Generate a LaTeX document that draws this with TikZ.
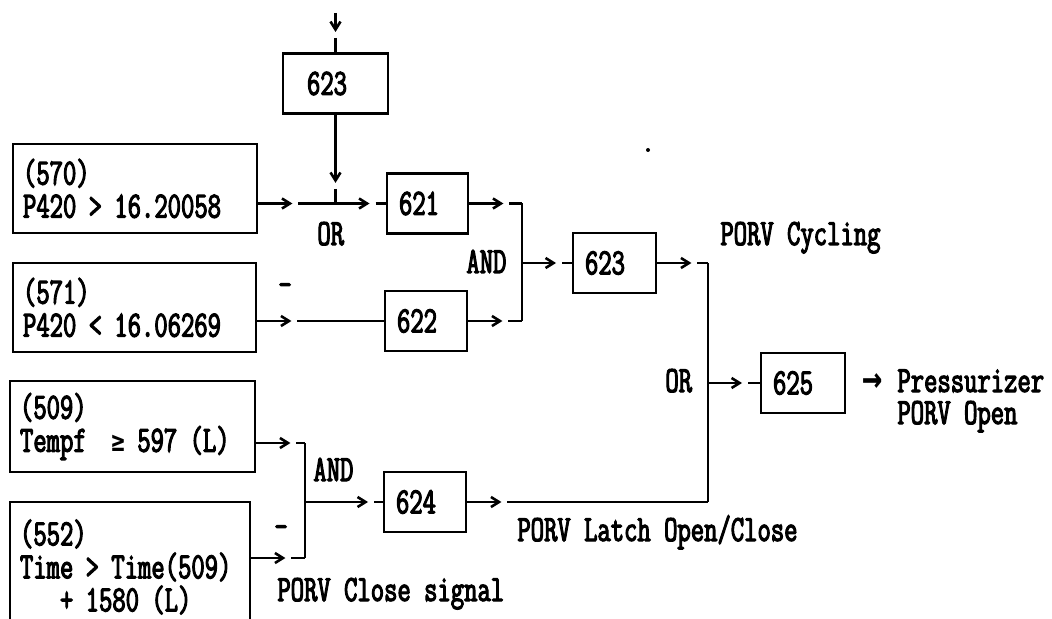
\documentclass[tikz,border=0pt]{standalone}
\usepackage{fontspec}
\setmainfont{Latin Modern Mono}[FakeStretch=0.7,FakeBold=3]
\newfontfamily\symfont{DejaVu Sans Mono Bold}[FakeStretch=0.8]
\usetikzlibrary{arrows.meta,calc}

\tikzset{
  sigline/.style={line width=1.3pt},
  sigarrow/.style={sigline,-{Straight Barb[length=4pt,width=5pt]}},
  condbox/.style={draw,line width=1.4pt,align=left,inner xsep=5pt,minimum height=44.5pt},
  blk/.style={draw,line width=1.4pt,align=left,inner xsep=6pt,minimum height=30pt},
  lbl/.style={inner sep=0pt,anchor=base west},
}
% arrow from #2, a short gap, then plain line on to #3
\newcommand\sig[3][17pt]{%
  \draw[sigarrow] (#2) -- ($(#2)!#1!(#3)$);
  \draw[sigline] ($(#2)!#1+3pt!(#3)$) -- (#3);}
\newcommand\geqsym{\makebox[6.8pt]{\symfont\fontsize{14}{14}\selectfont ≥}}
\newcommand\outarrow{\makebox[17.5pt][l]{\symfont\fontsize{21}{21}\selectfont →}}

\begin{document}
\begin{tikzpicture}[x=0.5pt,y=-0.5pt,font=\fontsize{18.5}{16.5}\selectfont]
    \useasboundingbox (0,0) rectangle (1052,619);
    \clip (0,0) rectangle (1052,619);
    % condition boxes
    \node[condbox,text width=112pt] (b570) at (135,188.5) {(570)\\P420 > 16.20058};
    \node[condbox,text width=111.5pt] (b571) at (134.5,307.5) {(571)\\P420 < 16.06269};
    \node[condbox,text width=112.5pt,minimum height=45.5pt] (b509) at (132.5,426.5) {(509)\\Tempf\ \ \geqsym{} 597 (L)};
    \node[condbox,text width=110pt,minimum height=65pt] (b552) at (130,567) {(552)\\Time > Time(509)\\\phantom{000}+ 1580 (L)};
    % logic blocks
    \node[blk,text width=28.5pt,inner xsep=12pt] (b623t) at (335.5,83.5) {623};
    \node[blk,text width=28.5pt] (b621) at (427.5,203.5) {621};
    \node[blk,text width=29pt] (b622) at (426,321) {622};
    \node[blk,text width=29pt] (b624) at (425,502) {624};
    \node[blk,text width=29.5pt] (b623) at (614.5,263) {623};
    \node[blk,text width=30pt] (b625) at (803,383) {625};
    % junctions and gate bars
    \coordinate (top) at (335.5,13);
    \coordinate (j1) at (b623t.south |- b621.west);
    \coordinate (o570) at (b570.east |- j1);
    \coordinate (o571) at (b571.east |- b622.west);
    \coordinate (a1t) at (522,203.5);
    \coordinate (a1b) at (522,321);
    \coordinate (a1o) at (a1t |- b623.west);
    \coordinate (o1t) at (708,263);
    \coordinate (o1b) at (708,502);
    \coordinate (o1o) at (o1t |- b625.west);
    \coordinate (a2t) at (305,443);
    \coordinate (a2b) at (305,558);
    \coordinate (a2o) at (a2t |- b624.west);
    \coordinate (o509) at (b509.east |- a2t);
    \coordinate (o552) at (b552.east |- a2b);
    % signal lines
    \sig[9.5pt]{top}{b623t.north}
    \sig[34pt]{b623t.south}{j1}
    \sig{o570}{j1}
    \sig{j1}{b621.west}
    \sig{b621.east}{a1t}
    \sig{o571}{b622.west}
    \sig{b622.east}{a1b}
    \draw[sigline] (a1t) -- (a1b);
    \sig{a1o}{b623.west}
    \sig{b623.east}{o1t}
    \sig{b624.east}{o1b}
    \draw[sigline] (o1t) -- (o1b);
    \sig{o1o}{b625.west}
    \sig{o509}{a2t}
    \sig{o552}{a2b}
    \draw[sigline] (a2t) -- (a2b);
    \sig[31.5pt]{a2o}{b624.west}
    % labels
    \node[lbl] (orA) at (317,245) {OR};
    \node[lbl] (andA) at (466,273) {AND};
    \node[lbl] (notA) at (278,296) {-};
    \node[lbl] (cyc) at (720,245) {PORV Cycling};
    \node[lbl] (orB) at (665,392) {OR};
    \node[lbl] (andB) at (313,481) {AND};
    \node[lbl] (notB) at (274,538) {-};
    \node[lbl] (latch) at (517,541) {PORV Latch Open/Close};
    \node[lbl] (close) at (277,601) {PORV Close signal};
    \node[lbl] (outA) at (862,392) {\outarrow Pressurizer};
    \node[lbl] (outB) at (897,424) {PORV Open};
    \fill (648,150) circle (1pt);
\end{tikzpicture}
\end{document}
